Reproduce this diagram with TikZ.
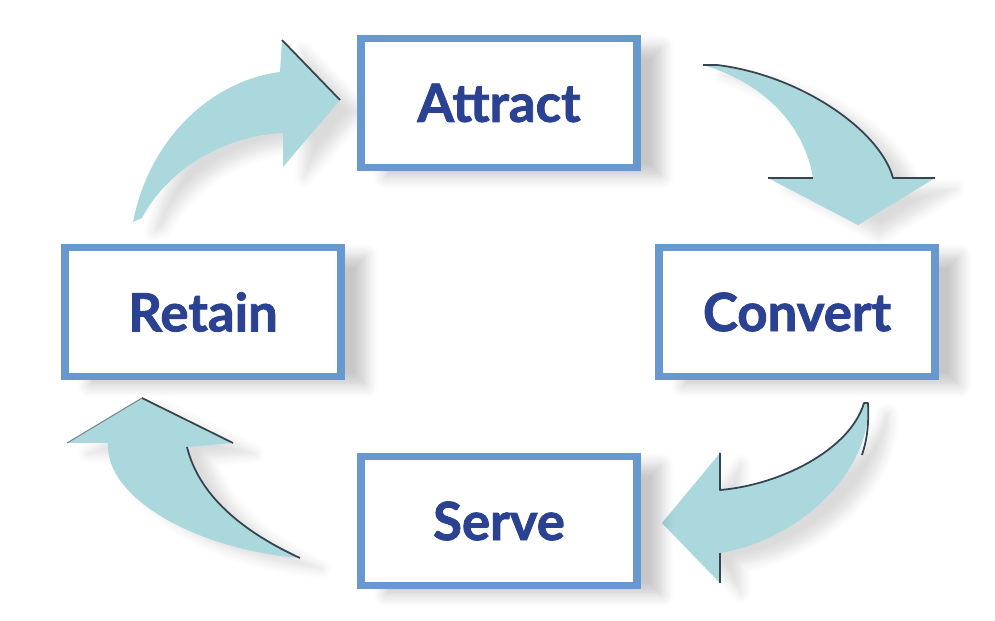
\documentclass[tikz,border=0pt]{standalone}
\usepackage{fontspec}
\setmainfont{Lato}
\newfontfamily\cystagefont{Lato}[BoldFeatures={FakeBold=1.6}]
\usepackage{tikz}
\usetikzlibrary{positioning, shadows.blur}
\definecolor{cy-frame}{RGB}{104,152,208}
\definecolor{cy-navy}{RGB}{42,66,145}
\definecolor{cy-teal}{RGB}{170,216,221}
\definecolor{cy-edge}{RGB}{55,68,80}
\tikzset{
  cy@stage/.style={
    draw=cy-frame, line width=4.5pt, fill=white,
    minimum width=5.52cm, minimum height=2.58cm,
    font=\cystagefont\fontsize{30}{34}\selectfont\bfseries, text=cy-navy,
    blur shadow={shadow blur steps=6, shadow xshift=14pt,
                 shadow yshift=-5pt, shadow opacity=22, shadow blur radius=7pt}
  },
  cy@arrow/.style={
    fill=cy-teal,
    blur shadow={shadow blur steps=6, shadow xshift=12pt,
                 shadow yshift=-6pt, shadow opacity=14, shadow blur radius=6pt}
  },
  cy@edge/.style={draw=cy-edge, line width=1pt, line join=round},
  cy@thin/.style={draw=cy-edge!70, line width=0.5pt},
}
\begin{document}
\begin{tikzpicture}[x=0.02cm, y=-0.02cm]
  \useasboundingbox (0,0) rectangle (995,621);

  % curved block arrows
  \fill[cy@arrow] (133,222) .. controls (150,135) and (215,80) .. (280,72)
        -- (282,40) -- (340,100) -- (283,167) -- (283,133)
        .. controls (230,135) and (170,165) .. (142,218) -- cycle;
  \draw[cy@edge] (282,40) -- (340,100);

  \fill[cy@arrow] (703,65) -- (717,65) .. controls (800,75) and (880,130) .. (893,178)
        -- (935,178) -- (858,225) -- (768,178) -- (813,178)
        .. controls (805,130) and (770,85) .. (703,65) -- cycle;
  \draw[cy@edge] (703,65) -- (717,65) .. controls (800,75) and (880,130) .. (893,178) -- (935,178);
  \draw[cy@edge] (768,178) -- (813,178);

  \fill[cy@arrow] (864,403) -- (868,403) .. controls (872,470) and (800,540) .. (720,553)
        -- (720,583) -- (662,523) -- (720,453) -- (720,490)
        .. controls (780,485) and (850,450) .. (864,403) -- cycle;
  \draw[cy@edge] (720,453) -- (720,490) .. controls (780,485) and (850,450) .. (864,403) -- (868,403)
        .. controls (869,425) and (867,440) .. (862,455);
  \draw[cy@edge] (720,553) -- (720,583);

  \fill[cy@arrow] (300,558) .. controls (200,550) and (105,500) .. (108,443)
        -- (67,443) -- (142,398) -- (233,443) -- (187,447)
        .. controls (200,500) and (250,535) .. (300,558) -- cycle;
  \draw[cy@edge] (142,398) -- (233,443);
  \draw[cy@edge] (187,447) .. controls (200,500) and (250,535) .. (300,558);
  \draw[cy@thin] (67,443) -- (142,398);

  % stages
  \node[cy@stage] (attract) at (499,103) {Attract};
  \node[cy@stage] (retain)  at (203,312) {Retain};
  \node[cy@stage] (convert) at (797,312) {Convert};
  \node[cy@stage] (serve)   at (499,521) {Serve};
\end{tikzpicture}
\end{document}
